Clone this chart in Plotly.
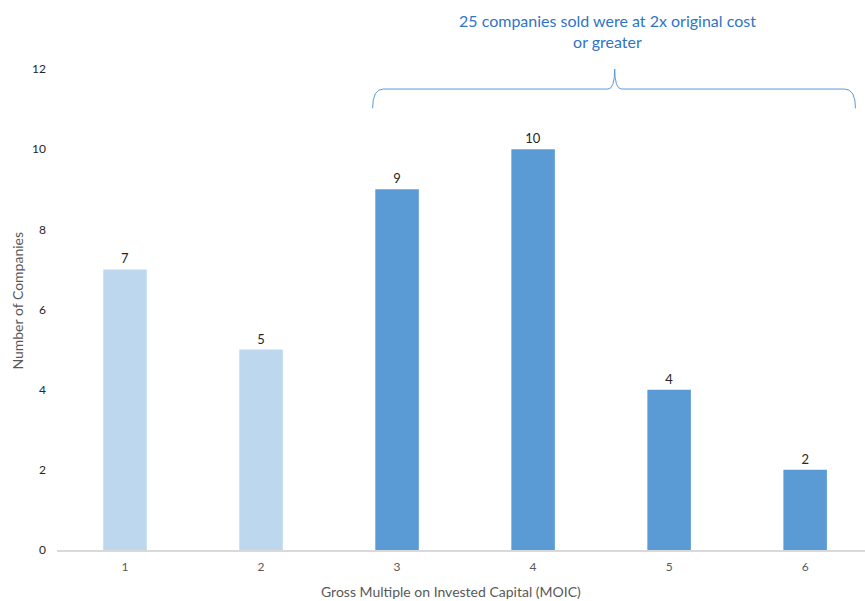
import plotly.graph_objects as go

categories = [1, 2, 3, 4, 5, 6]
companies = [7, 5, 9, 10, 4, 2]
bar_colors = ["#BDD7EE", "#BDD7EE", "#5B9BD5", "#5B9BD5", "#5B9BD5", "#5B9BD5"]
y_ticks = [0, 2, 4, 6, 8, 10, 12]

fig = go.Figure()
fig.add_trace(go.Bar(
    x=categories, y=companies, width=0.32,
    marker=dict(color=bar_colors, line=dict(width=0)),
    text=[str(v) for v in companies], textposition="outside",
    textfont=dict(family="Lato", size=13, color="#262626"),
    cliponaxis=False,
))

fig.update_layout(
    width=865, height=601,
    margin=dict(l=57, r=0, t=69, b=51),
    paper_bgcolor="white", plot_bgcolor="white",
    font=dict(family="Lato", color="#595959"),
    showlegend=False,
    xaxis=dict(range=[0.5, 6.44], tickvals=categories, ticktext=[str(c) for c in categories],
               showgrid=False, showline=True, linecolor="#D9D9D9", linewidth=1.5,
               ticks="", tickfont=dict(size=12, color="#595959"),
               ticklabelstandoff=5),
    yaxis=dict(range=[0, 12], tickvals=y_ticks, showgrid=False, zeroline=False,
               showline=False, ticks="", tickfont=dict(size=12, color="#262626"),
               ticklabelstandoff=10),
    shapes=[dict(
        type="path", xref="x", yref="y",
        path="M 2.82,11.02 Q 2.82,11.5 2.9,11.5 L 4.55,11.5 Q 4.6,11.5 4.6,12.02 "
             "Q 4.6,11.5 4.65,11.5 L 6.29,11.5 Q 6.37,11.5 6.37,11.02",
        line=dict(color="#5B9BD5", width=1),
    )],
    annotations=[
        dict(x=4.55, xref="x", y=1.079, yref="paper", yanchor="middle",
             text="25 companies sold were at 2x original cost<br>or greater",
             showarrow=False, font=dict(family="Lato", size=16, color="#2E75C6"),
             align="center"),
        dict(x=(451 - 57) / 808, xref="paper", y=(550 - 591) / 481, yref="paper",
             xanchor="center", yanchor="middle", showarrow=False,
             text="Gross Multiple on Invested Capital (MOIC)",
             font=dict(family="Lato", size=14, color="#595959")),
        dict(x=-0.05, xref="paper", y=(550 - 301) / 481, yref="paper",
             xanchor="center", yanchor="middle", textangle=-90, showarrow=False,
             text="Number of Companies",
             font=dict(family="Lato", size=14, color="#595959")),
    ],
)

fig.write_html("out.html")
